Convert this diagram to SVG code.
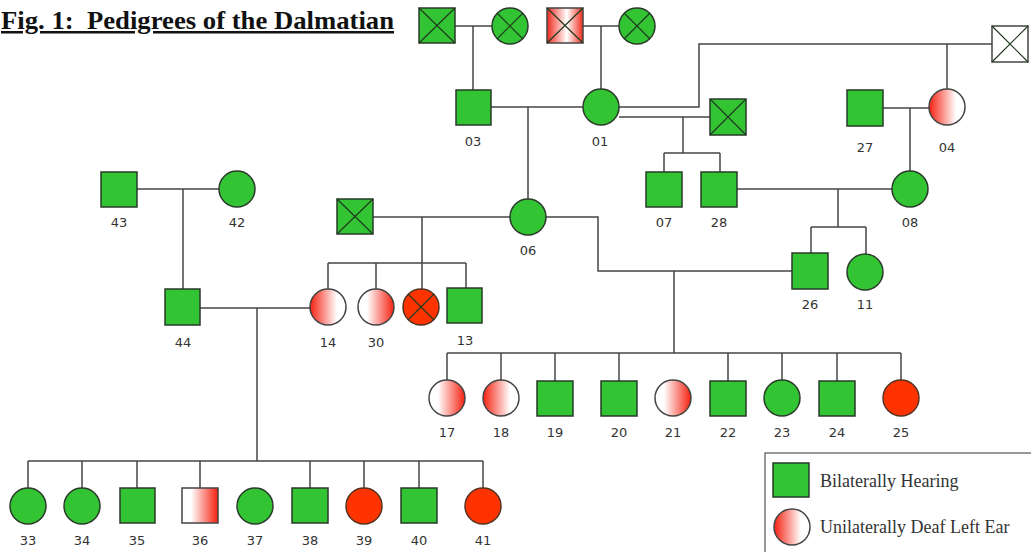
<svg xmlns="http://www.w3.org/2000/svg" width="1031" height="552" viewBox="0 0 1031 552">
<defs>
<linearGradient id="gL" x1="0" y1="0" x2="1" y2="0"><stop offset="0" stop-color="#f5200f"/><stop offset="0.75" stop-color="#ffffff"/></linearGradient>
<linearGradient id="gR" x1="0" y1="0" x2="1" y2="0"><stop offset="0.25" stop-color="#ffffff"/><stop offset="1" stop-color="#f5200f"/></linearGradient>
<linearGradient id="gM" x1="0" y1="0" x2="1" y2="0"><stop offset="0" stop-color="#f02a1c"/><stop offset="0.55" stop-color="#ffffff"/><stop offset="1" stop-color="#f02a1c"/></linearGradient>
</defs>
<style>
.g{fill:#33c433;stroke:#2a3a2a;stroke-width:1.5}
.r{fill:#ff3300;stroke:#553322;stroke-width:1.5}
.w{fill:#ffffff;stroke:#444;stroke-width:1.5}
.l{fill:url(#gL);stroke:#444;stroke-width:1.5}
.rt{fill:url(#gR);stroke:#444;stroke-width:1.5}
.m{fill:url(#gM);stroke:#444;stroke-width:1.5}
.x{stroke:#1f3a1f;stroke-width:1.2;fill:none}
.c line,.c path{stroke:#444;stroke-width:1.5;fill:none}
.t{font-family:"DejaVu Sans",Verdana,sans-serif;font-size:13px;fill:#333;text-anchor:middle}
.lg{font-family:"Liberation Serif","Times New Roman",serif;font-size:18px;fill:#333}
</style>
<rect width="1031" height="552" fill="#fff"/>
<text x="1" y="29" xml:space="preserve" font-family="Liberation Serif,'Times New Roman',serif" font-weight="bold" font-size="25" fill="#111" text-decoration="underline" textLength="393" lengthAdjust="spacingAndGlyphs">Fig. 1:  Pedigrees of the Dalmatian</text>

<g class="c" id="connectors">
<line x1="455" y1="26" x2="492" y2="26"/><line x1="473" y1="26" x2="473" y2="90"/>
<line x1="583" y1="26" x2="619" y2="26"/><line x1="601" y1="26" x2="601" y2="89"/>
<line x1="491" y1="107" x2="583" y2="107"/><line x1="528" y1="107" x2="528" y2="199"/>
<path d="M619,107 H699 V44 H992"/><line x1="947" y1="44" x2="947" y2="89"/>
<line x1="619" y1="117" x2="710" y2="117"/><line x1="683" y1="117" x2="683" y2="153"/>
<line x1="664" y1="153" x2="720" y2="153"/><line x1="664" y1="153" x2="664" y2="172"/><line x1="720" y1="153" x2="720" y2="172"/>
<line x1="883" y1="108" x2="929" y2="108"/><line x1="910" y1="108" x2="910" y2="171"/>
<line x1="737" y1="189" x2="892" y2="189"/><line x1="838" y1="189" x2="838" y2="227"/>
<line x1="811" y1="227" x2="866" y2="227"/><line x1="811" y1="227" x2="811" y2="253"/><line x1="866" y1="227" x2="866" y2="254"/>
<line x1="373" y1="217" x2="510" y2="217"/><line x1="422" y1="217" x2="422" y2="289"/>
<line x1="328" y1="263" x2="466" y2="263"/><line x1="328" y1="263" x2="328" y2="289"/><line x1="376" y1="263" x2="376" y2="289"/><line x1="466" y1="263" x2="466" y2="288"/>
<path d="M546,217 H598 V271 H792"/><line x1="674" y1="271" x2="674" y2="353"/>
<line x1="447" y1="353" x2="901" y2="353"/>
<line x1="447" y1="353" x2="447" y2="380"/><line x1="501" y1="353" x2="501" y2="380"/><line x1="555" y1="353" x2="555" y2="381"/><line x1="619" y1="353" x2="619" y2="381"/><line x1="728" y1="353" x2="728" y2="381"/><line x1="782" y1="353" x2="782" y2="380"/><line x1="837" y1="353" x2="837" y2="381"/><line x1="901" y1="353" x2="901" y2="380"/>
<line x1="137" y1="189" x2="219" y2="189"/><line x1="183" y1="189" x2="183" y2="289"/>
<line x1="200" y1="308" x2="310" y2="308"/><line x1="257" y1="308" x2="257" y2="461"/>
<line x1="28" y1="461" x2="483" y2="461"/>
<line x1="28" y1="461" x2="28" y2="488"/><line x1="82" y1="461" x2="82" y2="488"/><line x1="137" y1="461" x2="137" y2="488"/><line x1="200" y1="461" x2="200" y2="488"/><line x1="310" y1="461" x2="310" y2="488"/><line x1="364" y1="461" x2="364" y2="488"/><line x1="419" y1="461" x2="419" y2="488"/><line x1="483" y1="461" x2="483" y2="488"/>
</g>

<g id="gp1"><rect class="g" x="419" y="8" width="36" height="35"/><path class="x" d="M419,8 L455,43 M455,8 L419,43"/></g>
<g id="gp2"><circle class="g" cx="510" cy="26" r="18"/><path class="x" d="M497,13 L523,39 M523,13 L497,39"/></g>
<g id="gp3"><rect class="m" x="547" y="8" width="36" height="35"/><path class="x" stroke="#444" d="M547,8 L583,43 M583,8 L547,43"/></g>
<g id="gp4"><circle class="g" cx="637" cy="26" r="18"/><path class="x" d="M624,13 L650,39 M650,13 L624,39"/></g>
<g id="gp5"><rect class="w" x="992" y="26" width="36" height="36"/><path class="x" stroke="#444" d="M992,26 L1028,62 M1028,26 L992,62"/></g>

<g id="n03"><rect class="g" x="456" y="90" width="35" height="35"/><text class="t" x="473" y="146">03</text></g>
<g id="n01"><circle class="g" cx="601" cy="107" r="18"/><text class="t" x="600" y="146">01</text></g>
<g id="sireX"><rect class="g" x="710" y="99" width="36" height="36"/><path class="x" d="M710,99 L746,135 M746,99 L710,135"/></g>
<g id="n27"><rect class="g" x="847" y="90" width="36" height="36"/><text class="t" x="865" y="152">27</text></g>
<g id="n04"><circle class="l" cx="947" cy="107" r="18"/><text class="t" x="947" y="152">04</text></g>

<g id="n43"><rect class="g" x="101" y="172" width="36" height="35"/><text class="t" x="119" y="227">43</text></g>
<g id="n42"><circle class="g" cx="237" cy="189" r="18"/><text class="t" x="237" y="227">42</text></g>
<g id="n07"><rect class="g" x="646" y="172" width="36" height="35"/><text class="t" x="664" y="227">07</text></g>
<g id="n28"><rect class="g" x="701" y="172" width="36" height="35"/><text class="t" x="719" y="227">28</text></g>
<g id="n08"><circle class="g" cx="910" cy="189" r="18"/><text class="t" x="910" y="227">08</text></g>
<g id="sire06X"><rect class="g" x="337" y="199" width="36" height="35"/><path class="x" d="M337,199 L373,234 M373,199 L337,234"/></g>
<g id="n06"><circle class="g" cx="528" cy="217" r="18"/><text class="t" x="528" y="255">06</text></g>
<g id="n26"><rect class="g" x="792" y="253" width="36" height="36"/><text class="t" x="810" y="309">26</text></g>
<g id="n11"><circle class="g" cx="865" cy="272" r="18"/><text class="t" x="865" y="309">11</text></g>

<g id="n44"><rect class="g" x="165" y="289" width="35" height="36"/><text class="t" x="183" y="347">44</text></g>
<g id="n14"><circle class="l" cx="328" cy="307" r="18"/><text class="t" x="328" y="347">14</text></g>
<g id="n30"><circle class="rt" cx="376" cy="307" r="18"/><text class="t" x="376" y="347">30</text></g>
<g id="nRedX"><circle class="r" cx="421" cy="307" r="18"/><path class="x" stroke="#5a1a0a" d="M408,294 L434,320 M434,294 L408,320"/></g>
<g id="n13"><rect class="g" x="447" y="288" width="35" height="35"/><text class="t" x="465" y="345">13</text></g>

<g id="n17"><circle class="rt" cx="447" cy="398" r="18"/><text class="t" x="447" y="437">17</text></g>
<g id="n18"><circle class="l" cx="501" cy="398" r="18"/><text class="t" x="501" y="437">18</text></g>
<g id="n19"><rect class="g" x="537" y="381" width="36" height="35"/><text class="t" x="555" y="437">19</text></g>
<g id="n20"><rect class="g" x="601" y="381" width="36" height="35"/><text class="t" x="619" y="437">20</text></g>
<g id="n21"><circle class="rt" cx="673" cy="398" r="18"/><text class="t" x="673" y="437">21</text></g>
<g id="n22"><rect class="g" x="710" y="381" width="36" height="35"/><text class="t" x="728" y="437">22</text></g>
<g id="n23"><circle class="g" cx="782" cy="398" r="18"/><text class="t" x="782" y="437">23</text></g>
<g id="n24"><rect class="g" x="819" y="381" width="36" height="35"/><text class="t" x="837" y="437">24</text></g>
<g id="n25"><circle class="r" cx="901" cy="398" r="18"/><text class="t" x="901" y="437">25</text></g>

<g id="n33"><circle class="g" cx="28" cy="506" r="18"/><text class="t" x="28" y="545">33</text></g>
<g id="n34"><circle class="g" cx="82" cy="506" r="18"/><text class="t" x="82" y="545">34</text></g>
<g id="n35"><rect class="g" x="120" y="488" width="35" height="35"/><text class="t" x="137" y="545">35</text></g>
<g id="n36"><rect class="rt" x="182" y="488" width="36" height="35"/><text class="t" x="200" y="545">36</text></g>
<g id="n37"><circle class="g" cx="255" cy="506" r="18"/><text class="t" x="255" y="545">37</text></g>
<g id="n38"><rect class="g" x="292" y="488" width="36" height="35"/><text class="t" x="310" y="545">38</text></g>
<g id="n39"><circle class="r" cx="364" cy="506" r="18"/><text class="t" x="364" y="545">39</text></g>
<g id="n40"><rect class="g" x="401" y="488" width="36" height="35"/><text class="t" x="419" y="545">40</text></g>
<g id="n41"><circle class="r" cx="483" cy="506" r="18"/><text class="t" x="483" y="545">41</text></g>

<g id="legend">
<rect x="765" y="453" width="290" height="120" fill="#fff" stroke="#555" stroke-width="1.2"/>
<rect class="g" x="773" y="463" width="36" height="34"/>
<text class="lg" x="820" y="487">Bilaterally Hearing</text>
<circle class="l" cx="792" cy="527" r="18"/>
<text class="lg" x="820" y="533">Unilaterally Deaf Left Ear</text>
</g>
</svg>
